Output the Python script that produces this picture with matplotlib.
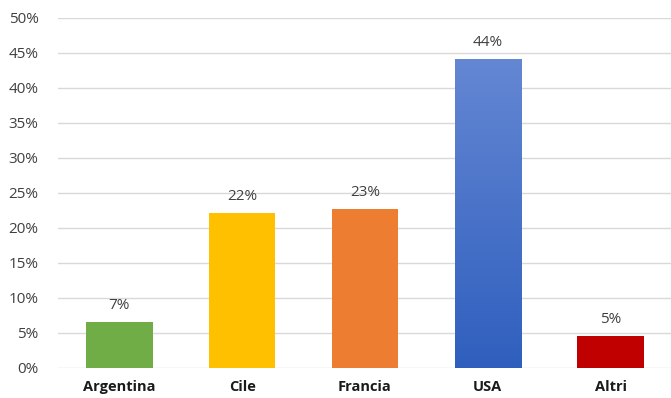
import numpy as np
import matplotlib.pyplot as plt
from matplotlib.ticker import FuncFormatter
from matplotlib.colors import LinearSegmentedColormap

paesi = ['Argentina', 'Cile', 'Francia', 'USA', 'Altri']
quote = [6.6, 22.1, 22.7, 44.1, 4.6]
colori = ['#70AD47', '#FFC000', '#ED7D31', '#4472C4', '#C00000']

plt.rcParams['font.family'] = ['Open Sans', 'DejaVu Sans']

fig = plt.figure(figsize=(6.71, 3.98), dpi=100)
ax = fig.add_axes([0.0864, 0.0754, 0.9151, 0.8794])

x = np.arange(len(paesi))
bars = ax.bar(x, quote, width=0.54, color=colori, zorder=3)

# USA bar gets a dark-bottom to light-top gradient
usa = bars[3]
bx, bw, bh = usa.get_x(), usa.get_width(), usa.get_height()
grad = np.linspace(0, 1, 256).reshape(-1, 1)
cmap = LinearSegmentedColormap.from_list('blu', ['#2F5FBE', '#6487D3'])
ax.imshow(grad, cmap=cmap, extent=[bx, bx + bw, 0, bh], aspect='auto',
          origin='lower', zorder=4)
ax.set_xlim(-0.5, len(paesi) - 0.5)

for b, v in zip(bars, quote):
    ax.text(b.get_x() + b.get_width() / 2, v + 1.3, f'{v:.0f}%',
            ha='center', va='bottom', fontsize=11, color='#404040', zorder=5)

ax.set_ylim(0, 50)
ax.set_yticks(np.arange(0, 51, 5))
ax.yaxis.set_major_formatter(FuncFormatter(lambda v, p: f'{v:.0f}%'))
ax.set_xticks(x)
ax.set_xticklabels(paesi, fontsize=10.5, fontweight='bold', color='#1a1a1a')
ax.tick_params(axis='y', labelsize=11, labelcolor='#404040', length=0, pad=14)
ax.tick_params(axis='x', length=0, pad=9)
ax.grid(axis='y', color='#D9D9D9', linewidth=1, zorder=0)
for s in ax.spines.values():
    s.set_visible(False)

fig.savefig('out.png', dpi=100)
